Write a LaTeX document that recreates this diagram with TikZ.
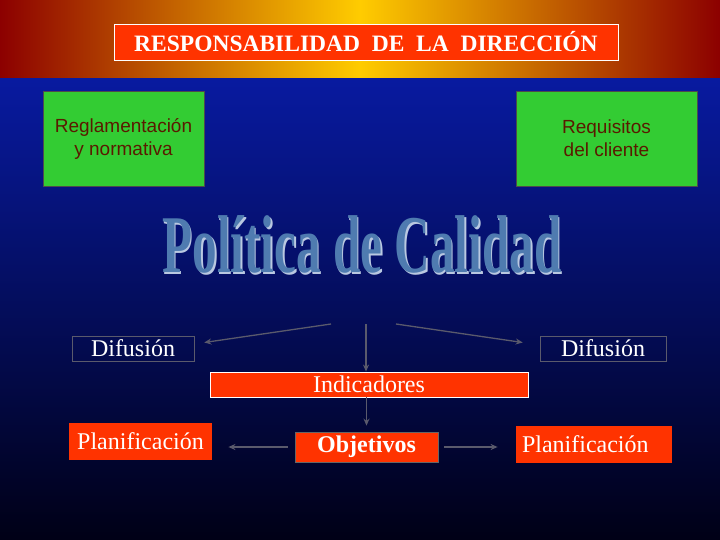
\documentclass[tikz,border=0pt]{standalone}
\usepackage{fontspec}
\setmainfont{Liberation Serif}
\setsansfont{Liberation Sans}
\usepackage{xcolor}
\usepackage{tikz}
\usetikzlibrary{arrows.meta, positioning, calc}

\definecolor{granate}{RGB}{140,0,0}
\definecolor{oro}{RGB}{255,204,0}
\definecolor{azulsup}{RGB}{8,26,160}
\definecolor{azulinf}{RGB}{0,0,22}
\definecolor{naranja}{RGB}{255,51,0}
\definecolor{verde}{RGB}{51,204,51}
\definecolor{marron}{RGB}{90,26,0}
\definecolor{acero}{RGB}{79,123,176}
\definecolor{acerocl}{RGB}{185,200,225}
\definecolor{gris}{RGB}{90,90,108}

\tikzset{
  rojo/.style={fill=naranja, draw=white, line width=0.8pt, inner sep=0pt,
    text=white, font=\fontsize{24}{28}\selectfont},
  caja/.style={draw=gris, line width=0.6pt, inner sep=0pt,
    text=white, font=\fontsize{24}{28}\selectfont},
  verdebox/.style={fill=verde, draw=black!70, line width=0.6pt, inner sep=0pt,
    text=marron, align=center, font=\sffamily\fontsize{19}{23}\selectfont},
  flecha/.style={draw=gris, line width=1.3pt, -{Stealth[length=7pt,width=6pt]}}
}

\begin{document}
\begin{tikzpicture}[x=1pt, y=-1pt]
  \useasboundingbox (0,0) rectangle (720,540);

  % --- Background ---
  \shade[top color=azulsup, bottom color=azulinf] (0,78) rectangle (720,540);
  \shade[left color=granate, right color=granate, middle color=oro] (0,0) rectangle (720,78);

  % Title
  \node[rojo, minimum width=504pt, minimum height=36pt,
    font=\bfseries\fontsize{23.5}{27}\selectfont] (titulo) at (366,42)
    {RESPONSABILIDAD\ \ DE\ \ LA\ \ DIRECCIÓN};

  % --- Inputs ---
  \node[verdebox, minimum width=161pt, minimum height=95pt] (regla) at (123.5,138.5)
    {Reglamentación\\y normativa};
  \node[verdebox, minimum width=181pt, minimum height=95pt] (requi) at (606.5,138.5)
    {Requisitos\\del cliente};

  % Heading with shadow
  \node[text=acero, font=\bfseries\fontsize{82}{86}\selectfont, xscale=0.60,
    inner sep=0pt, anchor=base] (poli) at (362,272)
    {\rlap{\kern2.5pt\raisebox{-2.5pt}{\color{acerocl}Política de Calidad}}Política de Calidad};

  % --- Lower boxes ---
  \node[caja, minimum width=122pt, minimum height=25pt] (difL) at (133,348.5) {Difusión};
  \node[caja, minimum width=126pt, minimum height=25pt] (difR) at (603,348.5) {Difusión};
  \node[rojo, minimum width=318pt, minimum height=25pt] (indic) at (369,384.5) {Indicadores};
  \node[rojo, draw=none, minimum width=143pt, minimum height=37pt] (planL) at (140.5,441.5) {Planificación};
  \node[rojo, draw=black!60, font=\bfseries\fontsize{24}{28}\selectfont,
    minimum width=143pt, minimum height=30pt] (obj) at (366.5,447) {Objetivos};
  \node[rojo, draw=none, inner xsep=6pt, text width=144pt, align=left,
    minimum height=37pt] (planR) at (594,444.5) {Planificación};

  % --- Connectors ---
  \coordinate (s1) at (331,324);
  \coordinate (s2) at (366,324);
  \coordinate (s3) at (396,324);
  \draw[flecha] (s1) -- ($(difL.east)+(10,-6)$);
  \draw[flecha] (s3) -- ($(difR.west)+(-17,-6)$);
  \draw[flecha] (s2) -- (s2 |- indic.north);
  \draw[flecha, shorten >=6pt] (obj.north |- indic.south) -- (obj.north);
  \draw[flecha, shorten <=7pt, shorten >=16pt] (obj.west) -- (obj.west -| planL.east);
  \draw[flecha, shorten <=6pt, shorten >=18pt] (obj.east) -- (obj.east -| planR.west);

\end{tikzpicture}
\end{document}
